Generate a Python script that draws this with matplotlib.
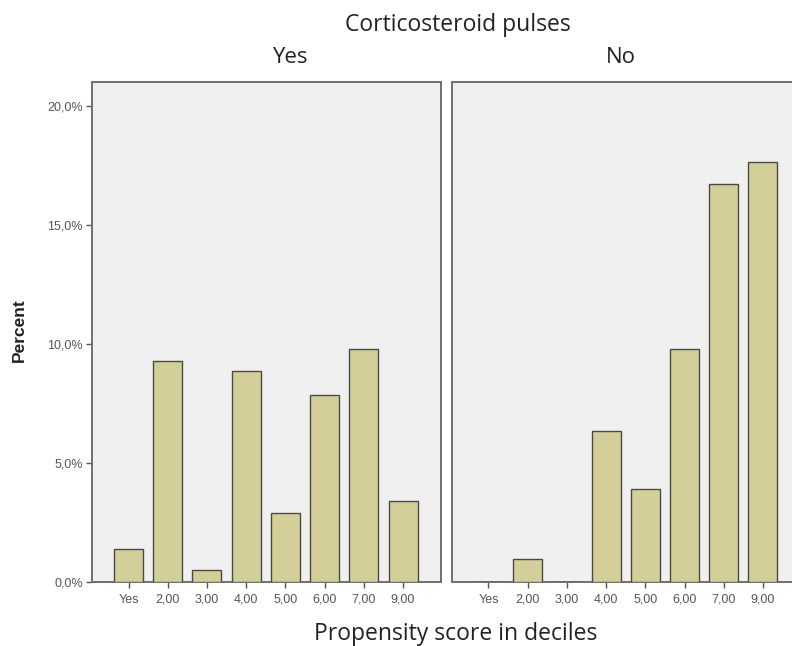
import matplotlib
matplotlib.use("Agg")
import matplotlib.pyplot as plt

# deciles of the propensity score (as labelled in the original output)
categories = ["Yes", "2,00", "3,00", "4,00", "5,00", "6,00", "7,00", "9,00"]
# percent of patients in each decile, per corticosteroid pulses group
pct_yes = [1.4, 9.3, 0.5, 8.85, 2.9, 7.85, 9.8, 3.4]
pct_no = [0.0, 0.95, 0.0, 6.35, 3.9, 9.8, 16.7, 17.65]
yticks = [0, 5, 10, 15, 20]
ytick_labels = ["0,0%", "5,0%", "10,0%", "15,0%", "20,0%"]
panels = ["Yes", "No"]

bar_col = "#d4cf98"
frame_col = "#707070"
bg_col = "#f0f0f0"
font = "Open Sans"
tick_font = "Liberation Sans"

fig = plt.figure(figsize=(7.92, 6.46), dpi=100)
ax1 = fig.add_axes([0.1162, 0.099, 0.4407, 0.774])
ax2 = fig.add_axes([0.5707, 0.099, 0.4407, 0.774])

for ax, vals in zip([ax1, ax2], [pct_yes, pct_no]):
    x = list(range(len(categories)))
    ax.bar(x, vals, width=0.74, color=bar_col, edgecolor="#4a4a44", linewidth=1.0, zorder=3)
    ax.set_facecolor(bg_col)
    ax.set_xlim(-0.93, 7.97)
    ax.set_ylim(0, 21.0)
    ax.set_xticks(x)
    ax.set_xticklabels(categories, fontsize=9, color="#555555", family=tick_font)
    ax.set_yticks(yticks)
    for s in ax.spines.values():
        s.set_color(frame_col)
        s.set_linewidth(1.4)
    ax.tick_params(axis="both", direction="out", length=4.5, width=1.0, color="#555555", pad=2)
    ax.tick_params(axis="x", pad=4)

ax1.set_yticklabels(ytick_labels, fontsize=9, color="#555555", family=tick_font)
ax2.tick_params(axis="y", left=False, labelleft=False)

fig.text(0.578, 0.952, "Corticosteroid pulses", ha="center", va="baseline", fontsize=16.5, family=font, color="#222222")
fig.text(0.366, 0.9025, panels[0], ha="center", va="baseline", fontsize=16, family=font, color="#222222")
fig.text(0.784, 0.9025, panels[1], ha="center", va="baseline", fontsize=16, family=font, color="#222222")
fig.text(0.575, 0.010, "Propensity score in deciles", ha="center", va="baseline", fontsize=16.5, family=font, color="#222222")
fig.text(0.025, 0.489, "Percent", ha="center", va="center", rotation=90, fontsize=12.5, fontweight="bold", family=tick_font, color="#222222")

fig.savefig("out.png", dpi=100)
